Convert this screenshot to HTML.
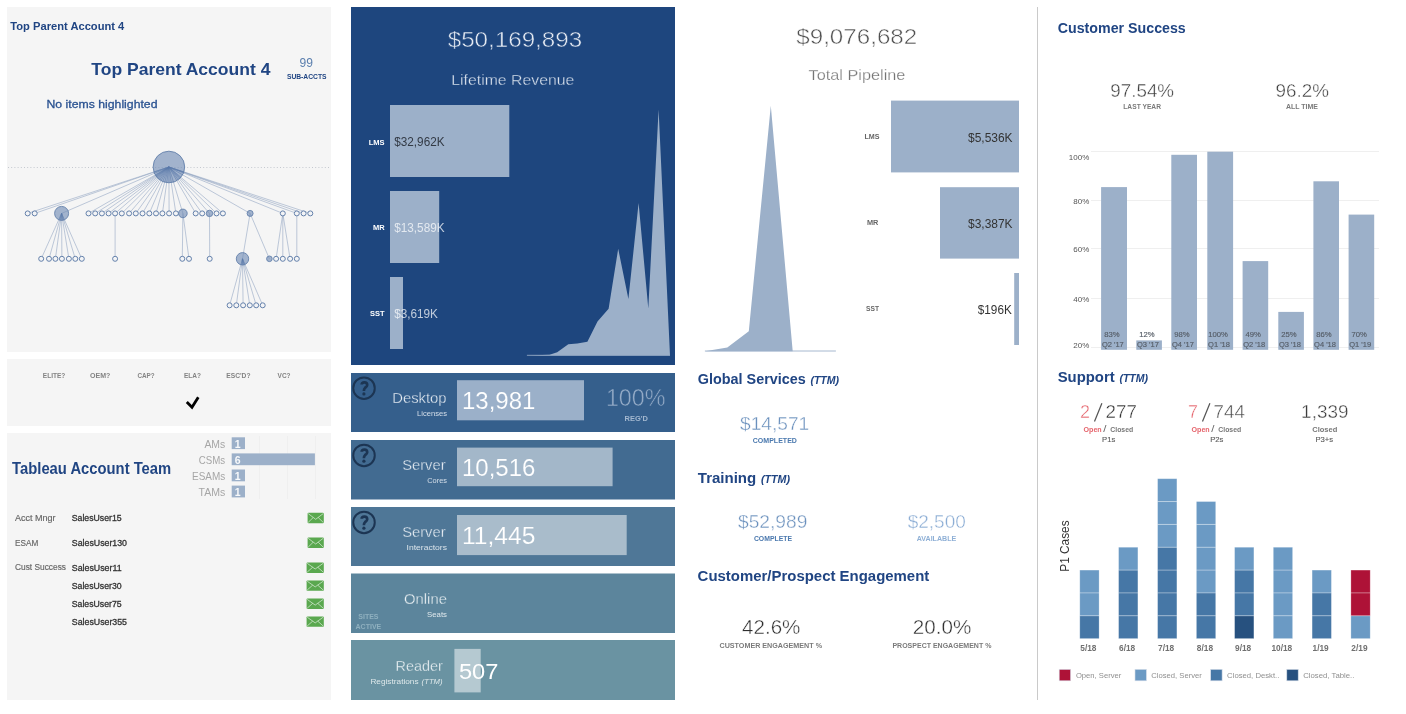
<!DOCTYPE html>
<html><head><meta charset="utf-8"><title>Account Dashboard</title>
<style>
html,body{margin:0;padding:0;background:#fff;}
body{width:1406px;height:714px;overflow:hidden;font-family:"Liberation Sans",sans-serif;}
svg{display:block;font-family:"Liberation Sans",sans-serif;will-change:transform;opacity:0.9999;}
text{white-space:pre;}
</style></head><body>
<svg width="1406" height="714" viewBox="0 0 1406 714">
<rect x="7.00" y="7.00" width="324.00" height="345.00" fill="#f5f5f5" />
<rect x="7.00" y="359.00" width="324.00" height="67.00" fill="#f5f5f5" />
<rect x="7.00" y="433.00" width="324.00" height="267.00" fill="#f5f5f5" />
<text y="29.90" font-size="11.5" fill="#204583" font-weight="bold" x="10.30" textLength="114.00" lengthAdjust="spacingAndGlyphs" >Top Parent Account 4</text>
<text y="75.20" font-size="17" fill="#204583" font-weight="bold" x="91.30" textLength="179.10" lengthAdjust="spacingAndGlyphs" >Top Parent Account 4</text>
<text y="67.00" font-size="12" fill="#5b7fae" x="299.50" textLength="13.40" lengthAdjust="spacingAndGlyphs" >99</text>
<text y="79.20" font-size="7" fill="#204583" font-weight="bold" x="286.90" textLength="39.70" lengthAdjust="spacingAndGlyphs" >SUB-ACCTS</text>
<text y="108.30" font-size="11.6" fill="#2a5291" x="46.50" textLength="111.00" lengthAdjust="spacingAndGlyphs" stroke="#2a5291" stroke-width="0.3">No items highlighted</text>
<line x1="8" y1="167.5" x2="331" y2="167.5" stroke="#c4c8cf" stroke-width="1" stroke-dasharray="1 2.2"/>
<g stroke="#8a9fbe" stroke-width="0.9" stroke-opacity="0.6" fill="none">
<line x1="168.9" y1="167.0" x2="27.7" y2="213.4"/>
<line x1="168.9" y1="167.0" x2="34.7" y2="213.4"/>
<line x1="168.9" y1="167.0" x2="61.6" y2="213.4"/>
<line x1="168.9" y1="167.0" x2="88.5" y2="213.4"/>
<line x1="168.9" y1="167.0" x2="95.2" y2="213.4"/>
<line x1="168.9" y1="167.0" x2="101.9" y2="213.4"/>
<line x1="168.9" y1="167.0" x2="108.6" y2="213.4"/>
<line x1="168.9" y1="167.0" x2="115.1" y2="213.4"/>
<line x1="168.9" y1="167.0" x2="121.8" y2="213.4"/>
<line x1="168.9" y1="167.0" x2="129.1" y2="213.4"/>
<line x1="168.9" y1="167.0" x2="135.8" y2="213.4"/>
<line x1="168.9" y1="167.0" x2="142.5" y2="213.4"/>
<line x1="168.9" y1="167.0" x2="149.3" y2="213.4"/>
<line x1="168.9" y1="167.0" x2="156.0" y2="213.4"/>
<line x1="168.9" y1="167.0" x2="162.4" y2="213.4"/>
<line x1="168.9" y1="167.0" x2="169.1" y2="213.4"/>
<line x1="168.9" y1="167.0" x2="175.9" y2="213.4"/>
<line x1="168.9" y1="167.0" x2="182.9" y2="213.4"/>
<line x1="168.9" y1="167.0" x2="195.7" y2="213.4"/>
<line x1="168.9" y1="167.0" x2="202.2" y2="213.4"/>
<line x1="168.9" y1="167.0" x2="209.5" y2="213.4"/>
<line x1="168.9" y1="167.0" x2="216.5" y2="213.4"/>
<line x1="168.9" y1="167.0" x2="222.9" y2="213.4"/>
<line x1="168.9" y1="167.0" x2="250.1" y2="213.4"/>
<line x1="168.9" y1="167.0" x2="282.8" y2="213.4"/>
<line x1="168.9" y1="167.0" x2="296.8" y2="213.4"/>
<line x1="168.9" y1="167.0" x2="303.6" y2="213.4"/>
<line x1="168.9" y1="167.0" x2="310.3" y2="213.4"/>
<line x1="61.6" y1="213.4" x2="41.2" y2="258.8"/>
<line x1="61.6" y1="213.4" x2="49.0" y2="258.8"/>
<line x1="61.6" y1="213.4" x2="55.4" y2="258.8"/>
<line x1="61.6" y1="213.4" x2="61.9" y2="258.8"/>
<line x1="61.6" y1="213.4" x2="68.9" y2="258.8"/>
<line x1="61.6" y1="213.4" x2="75.3" y2="258.8"/>
<line x1="61.6" y1="213.4" x2="81.8" y2="258.8"/>
<line x1="115.1" y1="213.4" x2="115.1" y2="258.8"/>
<line x1="182.9" y1="213.4" x2="182.3" y2="258.8"/>
<line x1="182.9" y1="213.4" x2="189.0" y2="258.8"/>
<line x1="209.5" y1="213.4" x2="209.7" y2="258.8"/>
<line x1="250.1" y1="213.4" x2="242.5" y2="258.8"/>
<line x1="250.1" y1="213.4" x2="269.4" y2="258.8"/>
<line x1="282.8" y1="213.4" x2="276.1" y2="258.8"/>
<line x1="282.8" y1="213.4" x2="282.8" y2="258.8"/>
<line x1="282.8" y1="213.4" x2="290.1" y2="258.8"/>
<line x1="296.8" y1="213.4" x2="296.8" y2="258.8"/>
<line x1="242.5" y1="258.8" x2="229.6" y2="305.3"/>
<line x1="242.5" y1="258.8" x2="236.3" y2="305.3"/>
<line x1="242.5" y1="258.8" x2="243.1" y2="305.3"/>
<line x1="242.5" y1="258.8" x2="249.8" y2="305.3"/>
<line x1="242.5" y1="258.8" x2="256.2" y2="305.3"/>
<line x1="242.5" y1="258.8" x2="262.7" y2="305.3"/>
</g>
<circle cx="168.9" cy="167.0" r="15.8" fill="#6f8ab5" fill-opacity="0.62" stroke="#6481ab" stroke-width="0.9"/>
<circle cx="27.7" cy="213.4" r="2.5" fill="#f3f4f6" stroke="#6481ab" stroke-width="1"/>
<circle cx="34.7" cy="213.4" r="2.5" fill="#f3f4f6" stroke="#6481ab" stroke-width="1"/>
<circle cx="61.6" cy="213.4" r="7.0" fill="#6f8ab5" fill-opacity="0.62" stroke="#6481ab" stroke-width="0.9"/>
<circle cx="88.5" cy="213.4" r="2.5" fill="#f3f4f6" stroke="#6481ab" stroke-width="1"/>
<circle cx="95.2" cy="213.4" r="2.5" fill="#f3f4f6" stroke="#6481ab" stroke-width="1"/>
<circle cx="101.9" cy="213.4" r="2.5" fill="#f3f4f6" stroke="#6481ab" stroke-width="1"/>
<circle cx="108.6" cy="213.4" r="2.5" fill="#f3f4f6" stroke="#6481ab" stroke-width="1"/>
<circle cx="115.1" cy="213.4" r="2.5" fill="#f3f4f6" stroke="#6481ab" stroke-width="1"/>
<circle cx="121.8" cy="213.4" r="2.5" fill="#f3f4f6" stroke="#6481ab" stroke-width="1"/>
<circle cx="129.1" cy="213.4" r="2.5" fill="#f3f4f6" stroke="#6481ab" stroke-width="1"/>
<circle cx="135.8" cy="213.4" r="2.5" fill="#f3f4f6" stroke="#6481ab" stroke-width="1"/>
<circle cx="142.5" cy="213.4" r="2.5" fill="#f3f4f6" stroke="#6481ab" stroke-width="1"/>
<circle cx="149.3" cy="213.4" r="2.5" fill="#f3f4f6" stroke="#6481ab" stroke-width="1"/>
<circle cx="156.0" cy="213.4" r="2.5" fill="#f3f4f6" stroke="#6481ab" stroke-width="1"/>
<circle cx="162.4" cy="213.4" r="2.5" fill="#f3f4f6" stroke="#6481ab" stroke-width="1"/>
<circle cx="169.1" cy="213.4" r="2.5" fill="#f3f4f6" stroke="#6481ab" stroke-width="1"/>
<circle cx="175.9" cy="213.4" r="2.5" fill="#f3f4f6" stroke="#6481ab" stroke-width="1"/>
<circle cx="182.9" cy="213.4" r="4.3" fill="#6f8ab5" fill-opacity="0.62" stroke="#6481ab" stroke-width="0.9"/>
<circle cx="195.7" cy="213.4" r="2.5" fill="#f3f4f6" stroke="#6481ab" stroke-width="1"/>
<circle cx="202.2" cy="213.4" r="2.5" fill="#f3f4f6" stroke="#6481ab" stroke-width="1"/>
<circle cx="209.5" cy="213.4" r="3.2" fill="#6f8ab5" fill-opacity="0.62" stroke="#6481ab" stroke-width="0.9"/>
<circle cx="216.5" cy="213.4" r="2.5" fill="#f3f4f6" stroke="#6481ab" stroke-width="1"/>
<circle cx="222.9" cy="213.4" r="2.5" fill="#f3f4f6" stroke="#6481ab" stroke-width="1"/>
<circle cx="250.1" cy="213.4" r="3.0" fill="#6f8ab5" fill-opacity="0.62" stroke="#6481ab" stroke-width="0.9"/>
<circle cx="282.8" cy="213.4" r="2.5" fill="#f3f4f6" stroke="#6481ab" stroke-width="1"/>
<circle cx="296.8" cy="213.4" r="2.5" fill="#f3f4f6" stroke="#6481ab" stroke-width="1"/>
<circle cx="303.6" cy="213.4" r="2.5" fill="#f3f4f6" stroke="#6481ab" stroke-width="1"/>
<circle cx="310.3" cy="213.4" r="2.5" fill="#f3f4f6" stroke="#6481ab" stroke-width="1"/>
<circle cx="41.2" cy="258.8" r="2.5" fill="#f3f4f6" stroke="#6481ab" stroke-width="1"/>
<circle cx="49.0" cy="258.8" r="2.5" fill="#f3f4f6" stroke="#6481ab" stroke-width="1"/>
<circle cx="55.4" cy="258.8" r="2.5" fill="#f3f4f6" stroke="#6481ab" stroke-width="1"/>
<circle cx="61.9" cy="258.8" r="2.5" fill="#f3f4f6" stroke="#6481ab" stroke-width="1"/>
<circle cx="68.9" cy="258.8" r="2.5" fill="#f3f4f6" stroke="#6481ab" stroke-width="1"/>
<circle cx="75.3" cy="258.8" r="2.5" fill="#f3f4f6" stroke="#6481ab" stroke-width="1"/>
<circle cx="81.8" cy="258.8" r="2.5" fill="#f3f4f6" stroke="#6481ab" stroke-width="1"/>
<circle cx="115.1" cy="258.8" r="2.5" fill="#f3f4f6" stroke="#6481ab" stroke-width="1"/>
<circle cx="182.3" cy="258.8" r="2.5" fill="#f3f4f6" stroke="#6481ab" stroke-width="1"/>
<circle cx="189.0" cy="258.8" r="2.5" fill="#f3f4f6" stroke="#6481ab" stroke-width="1"/>
<circle cx="209.7" cy="258.8" r="2.5" fill="#f3f4f6" stroke="#6481ab" stroke-width="1"/>
<circle cx="242.5" cy="258.8" r="6.2" fill="#6f8ab5" fill-opacity="0.62" stroke="#6481ab" stroke-width="0.9"/>
<circle cx="269.4" cy="258.8" r="2.8" fill="#6f8ab5" fill-opacity="0.62" stroke="#6481ab" stroke-width="0.9"/>
<circle cx="276.1" cy="258.8" r="2.5" fill="#f3f4f6" stroke="#6481ab" stroke-width="1"/>
<circle cx="282.8" cy="258.8" r="2.5" fill="#f3f4f6" stroke="#6481ab" stroke-width="1"/>
<circle cx="290.1" cy="258.8" r="2.5" fill="#f3f4f6" stroke="#6481ab" stroke-width="1"/>
<circle cx="296.8" cy="258.8" r="2.5" fill="#f3f4f6" stroke="#6481ab" stroke-width="1"/>
<circle cx="229.6" cy="305.3" r="2.5" fill="#f3f4f6" stroke="#6481ab" stroke-width="1"/>
<circle cx="236.3" cy="305.3" r="2.5" fill="#f3f4f6" stroke="#6481ab" stroke-width="1"/>
<circle cx="243.1" cy="305.3" r="2.5" fill="#f3f4f6" stroke="#6481ab" stroke-width="1"/>
<circle cx="249.8" cy="305.3" r="2.5" fill="#f3f4f6" stroke="#6481ab" stroke-width="1"/>
<circle cx="256.2" cy="305.3" r="2.5" fill="#f3f4f6" stroke="#6481ab" stroke-width="1"/>
<circle cx="262.7" cy="305.3" r="2.5" fill="#f3f4f6" stroke="#6481ab" stroke-width="1"/>
<g stroke="#5a79aa" stroke-width="0.7" stroke-opacity="0.5" fill="none">
<line x1="168.9" y1="167.0" x2="153.89" y2="171.93"/>
<line x1="168.9" y1="167.0" x2="153.97" y2="172.16"/>
<line x1="168.9" y1="167.0" x2="154.40" y2="173.27"/>
<line x1="168.9" y1="167.0" x2="155.22" y2="174.90"/>
<line x1="168.9" y1="167.0" x2="155.53" y2="175.42"/>
<line x1="168.9" y1="167.0" x2="155.91" y2="176.00"/>
<line x1="168.9" y1="167.0" x2="156.38" y2="176.64"/>
<line x1="168.9" y1="167.0" x2="156.94" y2="177.32"/>
<line x1="168.9" y1="167.0" x2="157.64" y2="178.09"/>
<line x1="168.9" y1="167.0" x2="158.61" y2="178.99"/>
<line x1="168.9" y1="167.0" x2="159.72" y2="179.86"/>
<line x1="168.9" y1="167.0" x2="161.09" y2="180.73"/>
<line x1="168.9" y1="167.0" x2="162.75" y2="181.55"/>
<line x1="168.9" y1="167.0" x2="164.67" y2="182.22"/>
<line x1="168.9" y1="167.0" x2="166.71" y2="182.65"/>
<line x1="168.9" y1="167.0" x2="168.97" y2="182.80"/>
<line x1="168.9" y1="167.0" x2="171.26" y2="182.62"/>
<line x1="168.9" y1="167.0" x2="173.46" y2="182.13"/>
<line x1="168.9" y1="167.0" x2="176.80" y2="180.68"/>
<line x1="168.9" y1="167.0" x2="178.11" y2="179.84"/>
<line x1="168.9" y1="167.0" x2="179.30" y2="178.89"/>
<line x1="168.9" y1="167.0" x2="180.21" y2="178.03"/>
<line x1="168.9" y1="167.0" x2="180.88" y2="177.30"/>
<line x1="168.9" y1="167.0" x2="182.62" y2="174.84"/>
<line x1="168.9" y1="167.0" x2="183.53" y2="172.96"/>
<line x1="168.9" y1="167.0" x2="183.75" y2="172.39"/>
<line x1="168.9" y1="167.0" x2="183.84" y2="172.15"/>
<line x1="168.9" y1="167.0" x2="183.91" y2="171.93"/>
<line x1="61.6" y1="213.4" x2="58.73" y2="219.79"/>
<line x1="61.6" y1="213.4" x2="59.73" y2="220.15"/>
<line x1="61.6" y1="213.4" x2="60.65" y2="220.34"/>
<line x1="61.6" y1="213.4" x2="61.65" y2="220.40"/>
<line x1="61.6" y1="213.4" x2="62.71" y2="220.31"/>
<line x1="61.6" y1="213.4" x2="63.62" y2="220.10"/>
<line x1="61.6" y1="213.4" x2="64.45" y2="219.80"/>
<line x1="242.5" y1="258.8" x2="240.84" y2="264.77"/>
<line x1="242.5" y1="258.8" x2="241.68" y2="264.95"/>
<line x1="242.5" y1="258.8" x2="242.58" y2="265.00"/>
<line x1="242.5" y1="258.8" x2="243.46" y2="264.92"/>
<line x1="242.5" y1="258.8" x2="244.25" y2="264.75"/>
<line x1="242.5" y1="258.8" x2="244.97" y2="264.49"/>
</g>
<text y="378.30" font-size="7" fill="#838383" font-weight="bold" x="42.80" textLength="22.50" lengthAdjust="spacingAndGlyphs" >ELITE?</text>
<text y="378.30" font-size="7" fill="#838383" font-weight="bold" x="90.00" textLength="20.30" lengthAdjust="spacingAndGlyphs" >OEM?</text>
<text y="378.30" font-size="7" fill="#838383" font-weight="bold" x="137.40" textLength="17.20" lengthAdjust="spacingAndGlyphs" >CAP?</text>
<text y="378.30" font-size="7" fill="#838383" font-weight="bold" x="183.90" textLength="17.00" lengthAdjust="spacingAndGlyphs" >ELA?</text>
<text y="378.30" font-size="7" fill="#838383" font-weight="bold" x="226.30" textLength="24.20" lengthAdjust="spacingAndGlyphs" >ESC&#x27;D?</text>
<text y="378.30" font-size="7" fill="#838383" font-weight="bold" x="277.60" textLength="13.00" lengthAdjust="spacingAndGlyphs" >VC?</text>
<path d="M186.8 402.0 L192.0 407.2 L198.3 397.3" fill="none" stroke="#000" stroke-width="2.8" stroke-linejoin="miter"/>
<text y="474.30" font-size="16" fill="#204583" font-weight="bold" x="12.10" textLength="159.10" lengthAdjust="spacingAndGlyphs" >Tableau Account Team</text>
<g stroke="#efefef" stroke-width="1"><line x1="259.5" y1="436" x2="259.5" y2="499"/><line x1="287.5" y1="436" x2="287.5" y2="499"/><line x1="315.5" y1="436" x2="315.5" y2="499"/></g>
<rect x="231.70" y="437.30" width="13.30" height="11.80" fill="#9cb0c9" />
<text y="447.90" font-size="11.5" fill="#a6a6a6" x="204.40" textLength="20.80" lengthAdjust="spacingAndGlyphs" >AMs</text>
<text y="447.60" font-size="10.5" fill="#ffffff" font-weight="bold" fill-opacity="0.92" x="234.70" >1</text>
<rect x="231.70" y="453.40" width="83.20" height="11.80" fill="#9cb0c9" />
<text y="464.00" font-size="11.5" fill="#a6a6a6" x="198.80" textLength="26.40" lengthAdjust="spacingAndGlyphs" >CSMs</text>
<text y="463.70" font-size="10.5" fill="#ffffff" font-weight="bold" fill-opacity="0.92" x="234.70" >6</text>
<rect x="231.70" y="469.50" width="13.30" height="11.80" fill="#9cb0c9" />
<text y="480.10" font-size="11.5" fill="#a6a6a6" x="192.00" textLength="33.20" lengthAdjust="spacingAndGlyphs" >ESAMs</text>
<text y="479.80" font-size="10.5" fill="#ffffff" font-weight="bold" fill-opacity="0.92" x="234.70" >1</text>
<rect x="231.70" y="485.60" width="13.30" height="11.80" fill="#9cb0c9" />
<text y="496.20" font-size="11.5" fill="#a6a6a6" x="198.50" textLength="26.70" lengthAdjust="spacingAndGlyphs" >TAMs</text>
<text y="495.90" font-size="10.5" fill="#ffffff" font-weight="bold" fill-opacity="0.92" x="234.70" >1</text>
<text y="521.30" font-size="8.5" fill="#666666" x="15.00" textLength="40.60" lengthAdjust="spacingAndGlyphs" stroke="#666666" stroke-width="0.15">Acct Mngr</text>
<text y="521.30" font-size="8.5" fill="#333333" x="71.80" textLength="49.80" lengthAdjust="spacingAndGlyphs" stroke="#333333" stroke-width="0.3">SalesUser15</text>
<rect x="307.6" y="512.80" width="16.20" height="10.40" rx="0.9" fill="#5aa84f"/>
<path d="M308.20000000000005 513.5999999999999 L315.70000000000005 519.30 L323.2 513.5999999999999 M308.20000000000005 522.40 L313.10 517.60 M323.2 522.40 L318.30 517.60" fill="none" stroke="#ffffff" stroke-opacity="0.62" stroke-width="0.9"/>
<text y="546.00" font-size="8.5" fill="#666666" x="15.00" textLength="23.20" lengthAdjust="spacingAndGlyphs" stroke="#666666" stroke-width="0.15">ESAM</text>
<text y="546.00" font-size="8.5" fill="#333333" x="71.80" textLength="55.20" lengthAdjust="spacingAndGlyphs" stroke="#333333" stroke-width="0.3">SalesUser130</text>
<rect x="307.6" y="537.50" width="16.20" height="10.40" rx="0.9" fill="#5aa84f"/>
<path d="M308.20000000000005 538.3 L315.70000000000005 544.00 L323.2 538.3 M308.20000000000005 547.10 L313.10 542.30 M323.2 547.10 L318.30 542.30" fill="none" stroke="#ffffff" stroke-opacity="0.62" stroke-width="0.9"/>
<text y="570.30" font-size="8.5" fill="#666666" x="15.00" textLength="51.00" lengthAdjust="spacingAndGlyphs" stroke="#666666" stroke-width="0.15">Cust Success</text>
<text y="571.30" font-size="8.5" fill="#333333" x="71.80" textLength="49.80" lengthAdjust="spacingAndGlyphs" stroke="#333333" stroke-width="0.3">SalesUser11</text>
<rect x="306.6" y="562.50" width="17.20" height="10.40" rx="0.9" fill="#5aa84f"/>
<path d="M307.20000000000005 563.3 L315.20000000000005 569.00 L323.2 563.3 M307.20000000000005 572.10 L312.60 567.30 M323.2 572.10 L317.80 567.30" fill="none" stroke="#ffffff" stroke-opacity="0.62" stroke-width="0.9"/>
<text y="589.00" font-size="8.5" fill="#333333" x="71.80" textLength="49.80" lengthAdjust="spacingAndGlyphs" stroke="#333333" stroke-width="0.3">SalesUser30</text>
<rect x="306.6" y="580.40" width="17.20" height="10.40" rx="0.9" fill="#5aa84f"/>
<path d="M307.20000000000005 581.1999999999999 L315.20000000000005 586.90 L323.2 581.1999999999999 M307.20000000000005 590.00 L312.60 585.20 M323.2 590.00 L317.80 585.20" fill="none" stroke="#ffffff" stroke-opacity="0.62" stroke-width="0.9"/>
<text y="607.00" font-size="8.5" fill="#333333" x="71.80" textLength="49.80" lengthAdjust="spacingAndGlyphs" stroke="#333333" stroke-width="0.3">SalesUser75</text>
<rect x="306.6" y="598.60" width="17.20" height="10.40" rx="0.9" fill="#5aa84f"/>
<path d="M307.20000000000005 599.3999999999999 L315.20000000000005 605.10 L323.2 599.3999999999999 M307.20000000000005 608.20 L312.60 603.40 M323.2 608.20 L317.80 603.40" fill="none" stroke="#ffffff" stroke-opacity="0.62" stroke-width="0.9"/>
<text y="624.90" font-size="8.5" fill="#333333" x="71.80" textLength="55.20" lengthAdjust="spacingAndGlyphs" stroke="#333333" stroke-width="0.3">SalesUser355</text>
<rect x="306.6" y="616.40" width="17.20" height="10.40" rx="0.9" fill="#5aa84f"/>
<path d="M307.20000000000005 617.1999999999999 L315.20000000000005 622.90 L323.2 617.1999999999999 M307.20000000000005 626.00 L312.60 621.20 M323.2 626.00 L317.80 621.20" fill="none" stroke="#ffffff" stroke-opacity="0.62" stroke-width="0.9"/>
<rect x="351.00" y="7.00" width="324.00" height="358.00" fill="#1e467e" />
<text y="47.00" font-size="22.5" fill="#e6ebf3" x="447.70" textLength="134.50" lengthAdjust="spacingAndGlyphs" stroke="#1e467e" stroke-width="0.5" >$50,169,893</text>
<text y="85.00" font-size="15" fill="#dbe3ee" x="451.30" textLength="123.00" lengthAdjust="spacingAndGlyphs" stroke="#1e467e" stroke-width="0.3" >Lifetime Revenue</text>
<rect x="390.00" y="105.00" width="119.30" height="72.00" fill="#9cb0c9" />
<rect x="390.00" y="191.00" width="49.20" height="72.00" fill="#9cb0c9" />
<rect x="390.00" y="277.00" width="13.00" height="72.00" fill="#9cb0c9" />
<text y="144.70" font-size="7.5" fill="#ffffff" font-weight="bold" x="384.60" text-anchor="end" >LMS</text>
<text y="230.40" font-size="7.5" fill="#ffffff" font-weight="bold" x="384.60" text-anchor="end" >MR</text>
<text y="315.90" font-size="7.5" fill="#ffffff" font-weight="bold" x="384.60" text-anchor="end" >SST</text>
<text y="146.20" font-size="12" fill="#333a45" x="394.20" textLength="50.40" lengthAdjust="spacingAndGlyphs" >$32,962K</text>
<text y="232.20" font-size="12" fill="#ffffff" fill-opacity="0.72" x="394.20" textLength="50.40" lengthAdjust="spacingAndGlyphs" >$13,589K</text>
<text y="318.00" font-size="12" fill="#ffffff" fill-opacity="0.72" x="394.20" textLength="43.70" lengthAdjust="spacingAndGlyphs" >$3,619K</text>
<polygon fill="#9cb0c9" points="526.9,355.6 549.6,354.7 557.2,352.2 568.3,344.3 577.3,343.6 587.4,341.8 597.5,321.6 608.6,308.7 618.2,248.8 628.4,298.9 638.6,202.9 648.3,308.4 658.6,109.6 670.0,355.6"/>
<line x1="526.9" y1="355.3" x2="670" y2="355.3" stroke="#9cb0c9" stroke-width="0.8"/>
<rect x="351.00" y="373.00" width="324.00" height="59.00" fill="#355f8c" />
<rect x="351.00" y="440.00" width="324.00" height="59.50" fill="#426b91" />
<rect x="351.00" y="507.00" width="324.00" height="59.00" fill="#4f7797" />
<rect x="351.00" y="573.50" width="324.00" height="59.50" fill="#5c859c" />
<rect x="351.00" y="640.00" width="324.00" height="60.00" fill="#6a93a2" />
<circle cx="364.0" cy="388.15" r="10.75" fill="none" stroke="#1c3553" stroke-width="2.0"/>
<path transform="translate(364.0 388.15)" d="M-2.3,-3.55 C-2.3,-5.25 -1.0,-5.85 0.4,-5.85 C2.2,-5.85 3.2,-4.75 3.2,-3.25 C3.2,-1.75 2.0,-1.15 1.0,-0.25 C0.2,0.45 -0.1,1.15 -0.1,2.9" fill="none" stroke="#1c3553" stroke-width="2.7"/>
<circle cx="363.9" cy="393.9" r="1.6" fill="#1c3553"/>
<rect x="457.00" y="380.20" width="127.00" height="40.10" fill="#9bb0c9" />
<text y="403.10" font-size="15" fill="#e8eef4" x="392.20" textLength="54.40" lengthAdjust="spacingAndGlyphs" stroke="#355f8c" stroke-width="0.3" >Desktop</text>
<text y="416.10" font-size="7.5" fill="#d5dfea" x="417.00" textLength="30.00" lengthAdjust="spacingAndGlyphs" >Licenses</text>
<text y="409.30" font-size="24" fill="#ffffff" x="462.00" textLength="73.40" lengthAdjust="spacingAndGlyphs" stroke="#9bb0c9" stroke-width="0.15" >13,981</text>
<text y="406.10" font-size="24" fill="#93aac6" x="605.90" textLength="59.70" lengthAdjust="spacingAndGlyphs" stroke="#355f8c" stroke-width="0.5" >100%</text>
<text y="421.00" font-size="7.5" fill="#a3b8d0" font-weight="bold" x="636.30" text-anchor="middle" >REG&#x27;D</text>
<circle cx="364.0" cy="455.4" r="10.75" fill="none" stroke="#1c3553" stroke-width="2.0"/>
<path transform="translate(364.0 455.4)" d="M-2.3,-3.55 C-2.3,-5.25 -1.0,-5.85 0.4,-5.85 C2.2,-5.85 3.2,-4.75 3.2,-3.25 C3.2,-1.75 2.0,-1.15 1.0,-0.25 C0.2,0.45 -0.1,1.15 -0.1,2.9" fill="none" stroke="#1c3553" stroke-width="2.7"/>
<circle cx="363.9" cy="461.15" r="1.6" fill="#1c3553"/>
<rect x="457.00" y="447.60" width="155.60" height="38.60" fill="#a3b7c9" />
<text y="470.40" font-size="15" fill="#e8eef4" x="402.20" textLength="43.40" lengthAdjust="spacingAndGlyphs" stroke="#426b91" stroke-width="0.3" >Server</text>
<text y="483.40" font-size="7.5" fill="#d5dfea" x="427.20" textLength="19.80" lengthAdjust="spacingAndGlyphs" >Cores</text>
<text y="476.40" font-size="24" fill="#ffffff" x="462.00" textLength="73.40" lengthAdjust="spacingAndGlyphs" stroke="#a3b7c9" stroke-width="0.15" >10,516</text>
<circle cx="364.0" cy="522.4" r="10.75" fill="none" stroke="#1c3553" stroke-width="2.0"/>
<path transform="translate(364.0 522.4)" d="M-2.3,-3.55 C-2.3,-5.25 -1.0,-5.85 0.4,-5.85 C2.2,-5.85 3.2,-4.75 3.2,-3.25 C3.2,-1.75 2.0,-1.15 1.0,-0.25 C0.2,0.45 -0.1,1.15 -0.1,2.9" fill="none" stroke="#1c3553" stroke-width="2.7"/>
<circle cx="363.9" cy="528.15" r="1.6" fill="#1c3553"/>
<rect x="457.00" y="515.00" width="169.70" height="40.10" fill="#a9bccb" />
<text y="536.90" font-size="15" fill="#e8eef4" x="402.20" textLength="43.40" lengthAdjust="spacingAndGlyphs" stroke="#4f7797" stroke-width="0.3" >Server</text>
<text y="550.00" font-size="7.5" fill="#d9e3ea" x="406.60" textLength="40.40" lengthAdjust="spacingAndGlyphs" >Interactors</text>
<text y="543.60" font-size="23" fill="#ffffff" x="462.00" textLength="73.40" lengthAdjust="spacingAndGlyphs" stroke="#a9bccb" stroke-width="0.15" >11,445</text>
<text y="604.00" font-size="15" fill="#ebf1f4" x="404.00" textLength="42.90" lengthAdjust="spacingAndGlyphs" stroke="#5c859c" stroke-width="0.3" >Online</text>
<text y="617.00" font-size="7.5" fill="#dfe8ec" x="427.00" textLength="20.00" lengthAdjust="spacingAndGlyphs" >Seats</text>
<text y="619.00" font-size="7" fill="#8fb0bf" font-weight="bold" x="368.40" text-anchor="middle" >SITES</text>
<text y="628.90" font-size="7" fill="#8fb0bf" font-weight="bold" x="368.40" text-anchor="middle" >ACTIVE</text>
<rect x="454.40" y="648.90" width="26.30" height="43.50" fill="#b5c9d1" />
<text y="671.20" font-size="15" fill="#ebf1f4" x="395.60" textLength="47.30" lengthAdjust="spacingAndGlyphs" stroke="#6a93a2" stroke-width="0.3" >Reader</text>
<text y="684.40" font-size="7.5" fill="#dde8ea" x="370.40" textLength="48.20" lengthAdjust="spacingAndGlyphs" >Registrations</text>
<text y="684.40" font-size="7.5" fill="#dde8ea" font-style="italic" x="421.60" textLength="21.00" lengthAdjust="spacingAndGlyphs" >(TTM)</text>
<text y="679.10" font-size="22.5" fill="#ffffff" x="458.90" textLength="39.50" lengthAdjust="spacingAndGlyphs" >507</text>
<text y="44.10" font-size="22.5" fill="#505050" x="796.30" textLength="120.90" lengthAdjust="spacingAndGlyphs" stroke="#ffffff" stroke-width="0.5" >$9,076,682</text>
<text y="80.00" font-size="14.5" fill="#757575" x="808.60" textLength="96.80" lengthAdjust="spacingAndGlyphs" stroke="#ffffff" stroke-width="0.25" >Total Pipeline</text>
<polygon fill="#9cb0c9" points="704.9,351.2 727.3,347.6 748.8,331.2 770.8,105.7 792.7,351.2"/>
<line x1="704.9" y1="351" x2="835.9" y2="351" stroke="#9cb0c9" stroke-width="0.9"/>
<rect x="891.00" y="100.60" width="128.00" height="71.80" fill="#9cb0c9" />
<rect x="940.00" y="187.20" width="79.00" height="71.40" fill="#9cb0c9" />
<rect x="1014.20" y="273.00" width="4.80" height="72.00" fill="#9cb0c9" />
<text y="139.40" font-size="7" fill="#666666" font-weight="bold" x="864.40" textLength="15.10" lengthAdjust="spacingAndGlyphs" >LMS</text>
<text y="225.30" font-size="7" fill="#666666" font-weight="bold" x="867.00" textLength="11.40" lengthAdjust="spacingAndGlyphs" >MR</text>
<text y="311.40" font-size="7" fill="#666666" font-weight="bold" x="866.00" textLength="13.00" lengthAdjust="spacingAndGlyphs" >SST</text>
<text y="141.90" font-size="12" fill="#333333" x="968.00" textLength="44.60" lengthAdjust="spacingAndGlyphs" >$5,536K</text>
<text y="227.80" font-size="12" fill="#333333" x="968.00" textLength="44.60" lengthAdjust="spacingAndGlyphs" >$3,387K</text>
<text y="313.60" font-size="12" fill="#333333" x="977.80" textLength="34.00" lengthAdjust="spacingAndGlyphs" >$196K</text>
<line x1="1037.5" y1="7" x2="1037.5" y2="700" stroke="#cacaca" stroke-width="1"/>
<text y="384.30" font-size="15" fill="#204583" font-weight="bold" x="697.80" textLength="108.00" lengthAdjust="spacingAndGlyphs" >Global Services</text>
<text y="384.30" font-size="10.5" fill="#204583" font-weight="bold" font-style="italic" x="810.40" textLength="28.70" lengthAdjust="spacingAndGlyphs" >(TTM)</text>
<text y="430.40" font-size="19" fill="#6a90bd" x="740.00" textLength="69.20" lengthAdjust="spacingAndGlyphs" stroke="#ffffff" stroke-width="0.4" >$14,571</text>
<text y="442.70" font-size="7.5" fill="#4a78ae" font-weight="bold" x="752.80" textLength="44.10" lengthAdjust="spacingAndGlyphs" >COMPLETED</text>
<text y="482.90" font-size="15" fill="#204583" font-weight="bold" x="697.80" textLength="58.40" lengthAdjust="spacingAndGlyphs" >Training</text>
<text y="482.90" font-size="10.5" fill="#204583" font-weight="bold" font-style="italic" x="761.00" textLength="29.00" lengthAdjust="spacingAndGlyphs" >(TTM)</text>
<text y="527.70" font-size="19" fill="#6a90bd" x="738.00" textLength="69.40" lengthAdjust="spacingAndGlyphs" stroke="#ffffff" stroke-width="0.4" >$52,989</text>
<text y="541.00" font-size="7.5" fill="#4a78ae" font-weight="bold" x="753.90" textLength="38.10" lengthAdjust="spacingAndGlyphs" >COMPLETE</text>
<text y="527.70" font-size="19" fill="#8aacd4" x="907.70" textLength="58.10" lengthAdjust="spacingAndGlyphs" stroke="#ffffff" stroke-width="0.4" >$2,500</text>
<text y="541.00" font-size="7.5" fill="#8fb0d6" font-weight="bold" x="916.70" textLength="39.60" lengthAdjust="spacingAndGlyphs" >AVAILABLE</text>
<text y="581.20" font-size="15" fill="#204583" font-weight="bold" x="697.60" textLength="231.70" lengthAdjust="spacingAndGlyphs" >Customer/Prospect Engagement</text>
<text y="633.70" font-size="20" fill="#2e2e2e" x="742.00" textLength="58.40" lengthAdjust="spacingAndGlyphs" stroke="#ffffff" stroke-width="0.4" >42.6%</text>
<text y="633.70" font-size="20" fill="#2e2e2e" x="912.80" textLength="58.50" lengthAdjust="spacingAndGlyphs" stroke="#ffffff" stroke-width="0.4" >20.0%</text>
<text y="648.00" font-size="7.5" fill="#7a7a7a" font-weight="bold" x="719.50" textLength="102.50" lengthAdjust="spacingAndGlyphs" >CUSTOMER ENGAGEMENT %</text>
<text y="648.00" font-size="7.5" fill="#7a7a7a" font-weight="bold" x="892.40" textLength="99.00" lengthAdjust="spacingAndGlyphs" >PROSPECT ENGAGEMENT %</text>
<text y="33.10" font-size="15" fill="#204583" font-weight="bold" x="1057.70" textLength="128.10" lengthAdjust="spacingAndGlyphs" >Customer Success</text>
<text y="96.80" font-size="19" fill="#3d3d3d" x="1110.30" textLength="63.80" lengthAdjust="spacingAndGlyphs" stroke="#ffffff" stroke-width="0.4" >97.54%</text>
<text y="109.30" font-size="7.5" fill="#7a7a7a" font-weight="bold" x="1123.30" textLength="37.70" lengthAdjust="spacingAndGlyphs" >LAST YEAR</text>
<text y="96.80" font-size="19" fill="#3d3d3d" x="1275.60" textLength="53.40" lengthAdjust="spacingAndGlyphs" stroke="#ffffff" stroke-width="0.4" >96.2%</text>
<text y="109.30" font-size="7.5" fill="#7a7a7a" font-weight="bold" x="1286.00" textLength="32.00" lengthAdjust="spacingAndGlyphs" >ALL TIME</text>
<line x1="1091" y1="151.5" x2="1379" y2="151.5" stroke="#efefef" stroke-width="1"/>
<line x1="1091" y1="200.5" x2="1379" y2="200.5" stroke="#efefef" stroke-width="1"/>
<line x1="1091" y1="248.5" x2="1379" y2="248.5" stroke="#efefef" stroke-width="1"/>
<line x1="1091" y1="298.5" x2="1379" y2="298.5" stroke="#efefef" stroke-width="1"/>
<line x1="1091" y1="347.5" x2="1379" y2="347.5" stroke="#efefef" stroke-width="1"/>
<text y="160.00" font-size="8" fill="#555555" x="1089.30" text-anchor="end" >100%</text>
<text y="204.20" font-size="8" fill="#555555" x="1089.30" text-anchor="end" >80%</text>
<text y="252.20" font-size="8" fill="#555555" x="1089.30" text-anchor="end" >60%</text>
<text y="301.60" font-size="8" fill="#555555" x="1089.30" text-anchor="end" >40%</text>
<text y="347.80" font-size="8" fill="#555555" x="1089.30" text-anchor="end" >20%</text>
<rect x="1101.10" y="187.10" width="25.90" height="162.70" fill="#9cb0c9" />
<rect x="1136.30" y="340.40" width="25.60" height="9.40" fill="#9cb0c9" />
<rect x="1171.30" y="154.80" width="25.70" height="195.00" fill="#9cb0c9" />
<rect x="1207.30" y="151.70" width="25.80" height="198.10" fill="#9cb0c9" />
<rect x="1242.60" y="261.10" width="25.60" height="88.70" fill="#9cb0c9" />
<rect x="1278.30" y="311.90" width="25.60" height="37.90" fill="#9cb0c9" />
<rect x="1313.40" y="181.30" width="25.60" height="168.50" fill="#9cb0c9" />
<rect x="1348.60" y="214.60" width="25.60" height="135.20" fill="#9cb0c9" />
<text y="336.90" font-size="7.7" fill="#555c66" x="1111.85" text-anchor="middle" stroke="#555c66" stroke-width="0.15">83%</text>
<text y="347.10" font-size="7.5" fill="#555c66" x="1112.85" text-anchor="middle" stroke="#555c66" stroke-width="0.15">Q2 &#x27;17</text>
<text y="336.90" font-size="7.7" fill="#555c66" x="1146.90" text-anchor="middle" stroke="#555c66" stroke-width="0.15">12%</text>
<text y="347.10" font-size="7.5" fill="#555c66" x="1147.90" text-anchor="middle" stroke="#555c66" stroke-width="0.15">Q3 &#x27;17</text>
<text y="336.90" font-size="7.7" fill="#555c66" x="1181.95" text-anchor="middle" stroke="#555c66" stroke-width="0.15">98%</text>
<text y="347.10" font-size="7.5" fill="#555c66" x="1182.95" text-anchor="middle" stroke="#555c66" stroke-width="0.15">Q4 &#x27;17</text>
<text y="336.90" font-size="7.7" fill="#555c66" x="1218.00" text-anchor="middle" stroke="#555c66" stroke-width="0.15">100%</text>
<text y="347.10" font-size="7.5" fill="#555c66" x="1219.00" text-anchor="middle" stroke="#555c66" stroke-width="0.15">Q1 &#x27;18</text>
<text y="336.90" font-size="7.7" fill="#555c66" x="1253.20" text-anchor="middle" stroke="#555c66" stroke-width="0.15">49%</text>
<text y="347.10" font-size="7.5" fill="#555c66" x="1254.20" text-anchor="middle" stroke="#555c66" stroke-width="0.15">Q2 &#x27;18</text>
<text y="336.90" font-size="7.7" fill="#555c66" x="1288.90" text-anchor="middle" stroke="#555c66" stroke-width="0.15">25%</text>
<text y="347.10" font-size="7.5" fill="#555c66" x="1289.90" text-anchor="middle" stroke="#555c66" stroke-width="0.15">Q3 &#x27;18</text>
<text y="336.90" font-size="7.7" fill="#555c66" x="1324.00" text-anchor="middle" stroke="#555c66" stroke-width="0.15">86%</text>
<text y="347.10" font-size="7.5" fill="#555c66" x="1325.00" text-anchor="middle" stroke="#555c66" stroke-width="0.15">Q4 &#x27;18</text>
<text y="336.90" font-size="7.7" fill="#555c66" x="1359.20" text-anchor="middle" stroke="#555c66" stroke-width="0.15">70%</text>
<text y="347.10" font-size="7.5" fill="#555c66" x="1360.20" text-anchor="middle" stroke="#555c66" stroke-width="0.15">Q1 &#x27;19</text>
<text y="382.30" font-size="15" fill="#204583" font-weight="bold" x="1057.70" textLength="57.00" lengthAdjust="spacingAndGlyphs" >Support</text>
<text y="382.30" font-size="10.5" fill="#204583" font-weight="bold" font-style="italic" x="1119.40" textLength="28.60" lengthAdjust="spacingAndGlyphs" >(TTM)</text>
<text y="418.30" font-size="18.5" fill="#e5636b" x="1080.00" textLength="10.00" lengthAdjust="spacingAndGlyphs" stroke="#ffffff" stroke-width="0.4" >2</text>
<line x1="1094.5" y1="421.4" x2="1101.9" y2="403.3" stroke="#555555" stroke-width="1.25"/>
<text y="418.30" font-size="18.5" fill="#303030" x="1105.60" textLength="31.40" lengthAdjust="spacingAndGlyphs" stroke="#ffffff" stroke-width="0.4" >277</text>
<text y="431.60" font-size="7.5" fill="#e5636b" font-weight="bold" x="1083.50" textLength="18.20" lengthAdjust="spacingAndGlyphs" >Open</text>
<text y="431.90" font-size="8.5" fill="#666666" x="1103.20" textLength="3.20" lengthAdjust="spacingAndGlyphs" >/</text>
<text y="431.60" font-size="7.5" fill="#777777" font-weight="bold" x="1110.30" textLength="22.90" lengthAdjust="spacingAndGlyphs" >Closed</text>
<text y="442.10" font-size="7.7" fill="#5a5a5a" x="1108.70" text-anchor="middle" stroke="#5a5a5a" stroke-width="0.12">P1s</text>
<text y="418.30" font-size="18.5" fill="#e5636b" x="1188.00" textLength="10.00" lengthAdjust="spacingAndGlyphs" stroke="#ffffff" stroke-width="0.4" >7</text>
<line x1="1202.5" y1="421.4" x2="1209.9" y2="403.3" stroke="#555555" stroke-width="1.25"/>
<text y="418.30" font-size="18.5" fill="#505050" x="1213.60" textLength="31.40" lengthAdjust="spacingAndGlyphs" stroke="#ffffff" stroke-width="0.4" >744</text>
<text y="431.60" font-size="7.5" fill="#e5636b" font-weight="bold" x="1191.50" textLength="18.20" lengthAdjust="spacingAndGlyphs" >Open</text>
<text y="431.90" font-size="8.5" fill="#666666" x="1211.20" textLength="3.20" lengthAdjust="spacingAndGlyphs" >/</text>
<text y="431.60" font-size="7.5" fill="#777777" font-weight="bold" x="1218.30" textLength="22.90" lengthAdjust="spacingAndGlyphs" >Closed</text>
<text y="442.10" font-size="7.7" fill="#5a5a5a" x="1216.80" text-anchor="middle" stroke="#5a5a5a" stroke-width="0.12">P2s</text>
<text y="418.30" font-size="18.5" fill="#3d3d3d" x="1301.10" textLength="47.40" lengthAdjust="spacingAndGlyphs" stroke="#ffffff" stroke-width="0.4" >1,339</text>
<text y="431.60" font-size="7.5" fill="#777777" font-weight="bold" x="1324.80" text-anchor="middle" >Closed</text>
<text y="442.10" font-size="7.7" fill="#5a5a5a" x="1324.30" text-anchor="middle" stroke="#5a5a5a" stroke-width="0.12">P3+s</text>
<rect x="1079.80" y="615.76" width="19.30" height="22.84" fill="#4677a6" />
<rect x="1079.80" y="592.92" width="19.30" height="22.84" fill="#6b9ac4" />
<rect x="1079.80" y="570.08" width="19.30" height="22.84" fill="#6b9ac4" />
<line x1="1079.8" y1="615.76" x2="1099.1" y2="615.76" stroke="#ffffff" stroke-opacity="0.38" stroke-width="1"/>
<line x1="1079.8" y1="592.92" x2="1099.1" y2="592.92" stroke="#ffffff" stroke-opacity="0.38" stroke-width="1"/>
<rect x="1079.8" y="570.08" width="19.3" height="68.52" fill="none" stroke="#ffffff" stroke-opacity="0.3" stroke-width="0.8"/>
<text y="650.80" font-size="8.3" fill="#707070" font-weight="bold" x="1088.35" text-anchor="middle" >5/18</text>
<rect x="1118.60" y="615.76" width="19.30" height="22.84" fill="#4677a6" />
<rect x="1118.60" y="592.92" width="19.30" height="22.84" fill="#4677a6" />
<rect x="1118.60" y="570.08" width="19.30" height="22.84" fill="#4677a6" />
<rect x="1118.60" y="547.24" width="19.30" height="22.84" fill="#6b9ac4" />
<line x1="1118.6" y1="615.76" x2="1137.8999999999999" y2="615.76" stroke="#ffffff" stroke-opacity="0.38" stroke-width="1"/>
<line x1="1118.6" y1="592.92" x2="1137.8999999999999" y2="592.92" stroke="#ffffff" stroke-opacity="0.38" stroke-width="1"/>
<line x1="1118.6" y1="570.08" x2="1137.8999999999999" y2="570.08" stroke="#ffffff" stroke-opacity="0.38" stroke-width="1"/>
<rect x="1118.6" y="547.24" width="19.3" height="91.36" fill="none" stroke="#ffffff" stroke-opacity="0.3" stroke-width="0.8"/>
<text y="650.80" font-size="8.3" fill="#707070" font-weight="bold" x="1127.15" text-anchor="middle" >6/18</text>
<rect x="1157.60" y="615.76" width="19.30" height="22.84" fill="#4677a6" />
<rect x="1157.60" y="592.92" width="19.30" height="22.84" fill="#4677a6" />
<rect x="1157.60" y="570.08" width="19.30" height="22.84" fill="#4677a6" />
<rect x="1157.60" y="547.24" width="19.30" height="22.84" fill="#4677a6" />
<rect x="1157.60" y="524.40" width="19.30" height="22.84" fill="#6b9ac4" />
<rect x="1157.60" y="501.56" width="19.30" height="22.84" fill="#6b9ac4" />
<rect x="1157.60" y="478.72" width="19.30" height="22.84" fill="#6b9ac4" />
<line x1="1157.6" y1="615.76" x2="1176.8999999999999" y2="615.76" stroke="#ffffff" stroke-opacity="0.38" stroke-width="1"/>
<line x1="1157.6" y1="592.92" x2="1176.8999999999999" y2="592.92" stroke="#ffffff" stroke-opacity="0.38" stroke-width="1"/>
<line x1="1157.6" y1="570.08" x2="1176.8999999999999" y2="570.08" stroke="#ffffff" stroke-opacity="0.38" stroke-width="1"/>
<line x1="1157.6" y1="547.24" x2="1176.8999999999999" y2="547.24" stroke="#ffffff" stroke-opacity="0.38" stroke-width="1"/>
<line x1="1157.6" y1="524.40" x2="1176.8999999999999" y2="524.40" stroke="#ffffff" stroke-opacity="0.38" stroke-width="1"/>
<line x1="1157.6" y1="501.56" x2="1176.8999999999999" y2="501.56" stroke="#ffffff" stroke-opacity="0.38" stroke-width="1"/>
<rect x="1157.6" y="478.72" width="19.3" height="159.88" fill="none" stroke="#ffffff" stroke-opacity="0.3" stroke-width="0.8"/>
<text y="650.80" font-size="8.3" fill="#707070" font-weight="bold" x="1166.15" text-anchor="middle" >7/18</text>
<rect x="1196.40" y="615.76" width="19.30" height="22.84" fill="#4677a6" />
<rect x="1196.40" y="592.92" width="19.30" height="22.84" fill="#4677a6" />
<rect x="1196.40" y="570.08" width="19.30" height="22.84" fill="#6b9ac4" />
<rect x="1196.40" y="547.24" width="19.30" height="22.84" fill="#6b9ac4" />
<rect x="1196.40" y="524.40" width="19.30" height="22.84" fill="#6b9ac4" />
<rect x="1196.40" y="501.56" width="19.30" height="22.84" fill="#6b9ac4" />
<line x1="1196.4" y1="615.76" x2="1215.7" y2="615.76" stroke="#ffffff" stroke-opacity="0.38" stroke-width="1"/>
<line x1="1196.4" y1="592.92" x2="1215.7" y2="592.92" stroke="#ffffff" stroke-opacity="0.38" stroke-width="1"/>
<line x1="1196.4" y1="570.08" x2="1215.7" y2="570.08" stroke="#ffffff" stroke-opacity="0.38" stroke-width="1"/>
<line x1="1196.4" y1="547.24" x2="1215.7" y2="547.24" stroke="#ffffff" stroke-opacity="0.38" stroke-width="1"/>
<line x1="1196.4" y1="524.40" x2="1215.7" y2="524.40" stroke="#ffffff" stroke-opacity="0.38" stroke-width="1"/>
<rect x="1196.4" y="501.56" width="19.3" height="137.04" fill="none" stroke="#ffffff" stroke-opacity="0.3" stroke-width="0.8"/>
<text y="650.80" font-size="8.3" fill="#707070" font-weight="bold" x="1204.95" text-anchor="middle" >8/18</text>
<rect x="1234.60" y="615.76" width="19.30" height="22.84" fill="#27517f" />
<rect x="1234.60" y="592.92" width="19.30" height="22.84" fill="#4677a6" />
<rect x="1234.60" y="570.08" width="19.30" height="22.84" fill="#4677a6" />
<rect x="1234.60" y="547.24" width="19.30" height="22.84" fill="#6b9ac4" />
<line x1="1234.6" y1="615.76" x2="1253.8999999999999" y2="615.76" stroke="#ffffff" stroke-opacity="0.38" stroke-width="1"/>
<line x1="1234.6" y1="592.92" x2="1253.8999999999999" y2="592.92" stroke="#ffffff" stroke-opacity="0.38" stroke-width="1"/>
<line x1="1234.6" y1="570.08" x2="1253.8999999999999" y2="570.08" stroke="#ffffff" stroke-opacity="0.38" stroke-width="1"/>
<rect x="1234.6" y="547.24" width="19.3" height="91.36" fill="none" stroke="#ffffff" stroke-opacity="0.3" stroke-width="0.8"/>
<text y="650.80" font-size="8.3" fill="#707070" font-weight="bold" x="1243.15" text-anchor="middle" >9/18</text>
<rect x="1273.30" y="615.76" width="19.30" height="22.84" fill="#6b9ac4" />
<rect x="1273.30" y="592.92" width="19.30" height="22.84" fill="#6b9ac4" />
<rect x="1273.30" y="570.08" width="19.30" height="22.84" fill="#6b9ac4" />
<rect x="1273.30" y="547.24" width="19.30" height="22.84" fill="#6b9ac4" />
<line x1="1273.3" y1="615.76" x2="1292.6" y2="615.76" stroke="#ffffff" stroke-opacity="0.38" stroke-width="1"/>
<line x1="1273.3" y1="592.92" x2="1292.6" y2="592.92" stroke="#ffffff" stroke-opacity="0.38" stroke-width="1"/>
<line x1="1273.3" y1="570.08" x2="1292.6" y2="570.08" stroke="#ffffff" stroke-opacity="0.38" stroke-width="1"/>
<rect x="1273.3" y="547.24" width="19.3" height="91.36" fill="none" stroke="#ffffff" stroke-opacity="0.3" stroke-width="0.8"/>
<text y="650.80" font-size="8.3" fill="#707070" font-weight="bold" x="1281.85" text-anchor="middle" >10/18</text>
<rect x="1312.10" y="615.76" width="19.30" height="22.84" fill="#4677a6" />
<rect x="1312.10" y="592.92" width="19.30" height="22.84" fill="#4677a6" />
<rect x="1312.10" y="570.08" width="19.30" height="22.84" fill="#6b9ac4" />
<line x1="1312.1" y1="615.76" x2="1331.3999999999999" y2="615.76" stroke="#ffffff" stroke-opacity="0.38" stroke-width="1"/>
<line x1="1312.1" y1="592.92" x2="1331.3999999999999" y2="592.92" stroke="#ffffff" stroke-opacity="0.38" stroke-width="1"/>
<rect x="1312.1" y="570.08" width="19.3" height="68.52" fill="none" stroke="#ffffff" stroke-opacity="0.3" stroke-width="0.8"/>
<text y="650.80" font-size="8.3" fill="#707070" font-weight="bold" x="1320.65" text-anchor="middle" >1/19</text>
<rect x="1350.90" y="615.76" width="19.30" height="22.84" fill="#6b9ac4" />
<rect x="1350.90" y="592.92" width="19.30" height="22.84" fill="#ae1237" />
<rect x="1350.90" y="570.08" width="19.30" height="22.84" fill="#ae1237" />
<line x1="1350.9" y1="615.76" x2="1370.2" y2="615.76" stroke="#ffffff" stroke-opacity="0.38" stroke-width="1"/>
<line x1="1350.9" y1="592.92" x2="1370.2" y2="592.92" stroke="#ffffff" stroke-opacity="0.38" stroke-width="1"/>
<rect x="1350.9" y="570.08" width="19.3" height="68.52" fill="none" stroke="#ffffff" stroke-opacity="0.3" stroke-width="0.8"/>
<text y="650.80" font-size="8.3" fill="#707070" font-weight="bold" x="1359.45" text-anchor="middle" >2/19</text>
<text transform="translate(1068.6 571.7) rotate(-90)" font-size="12" fill="#333333" textLength="51.3" lengthAdjust="spacingAndGlyphs">P1 Cases</text>
<rect x="1059.2" y="669.4" width="11.4" height="11.4" fill="#ae1237" stroke="#d5dde8" stroke-width="0.6"/>
<text y="678.40" font-size="7.7" fill="#8f8f8f" x="1075.90" textLength="45.50" lengthAdjust="spacingAndGlyphs" >Open, Server</text>
<rect x="1135.0" y="669.4" width="11.4" height="11.4" fill="#6b9ac4" stroke="#d5dde8" stroke-width="0.6"/>
<text y="678.40" font-size="7.7" fill="#8f8f8f" x="1151.30" textLength="50.50" lengthAdjust="spacingAndGlyphs" >Closed, Server</text>
<rect x="1210.7" y="669.4" width="11.4" height="11.4" fill="#4677a6" stroke="#d5dde8" stroke-width="0.6"/>
<text y="678.40" font-size="7.7" fill="#8f8f8f" x="1227.10" textLength="52.30" lengthAdjust="spacingAndGlyphs" >Closed, Deskt..</text>
<rect x="1286.8" y="669.4" width="11.4" height="11.4" fill="#27517f" stroke="#d5dde8" stroke-width="0.6"/>
<text y="678.40" font-size="7.7" fill="#8f8f8f" x="1303.20" textLength="51.20" lengthAdjust="spacingAndGlyphs" >Closed, Table..</text>
</svg>
</body></html>
